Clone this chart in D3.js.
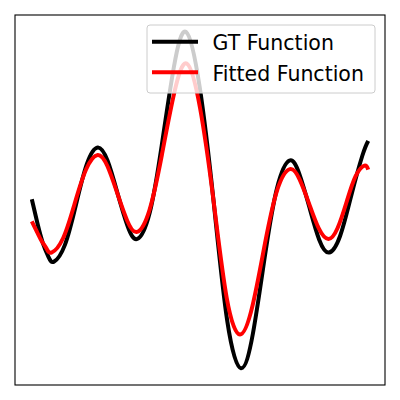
<!DOCTYPE html>
<html>
<head>
<meta charset="utf-8">
<script src="https://cdn.jsdelivr.net/npm/d3@7"></script>
<style>
  html, body { margin: 0; padding: 0; background: #fff; }
  svg { display: block; }
</style>
</head>
<body>
<div id="chart"></div>
<script>
// ---- data ----
const seriesNames = ["GT Function", "Fitted Function"];
const seriesColors = ["#000000", "#ff0000"];

const gtX = [0.000, 0.165, 0.330, 0.495, 0.660, 0.984, 1.314, 1.635, 1.959, 2.253, 2.548, 2.842, 3.136,
             3.508, 3.864, 4.221, 4.584, 4.993, 5.401, 5.810, 6.219, 6.576, 6.932, 7.289, 7.661,
             7.955, 8.248, 8.541, 8.835, 9.165, 9.496, 9.828, 10.000];
const gtY = [0.010, -0.227, -0.428, -0.563, -0.610, -0.444, -0.043, 0.359, 0.525, 0.392, 0.070, -0.252, -0.385,
             -0.120, 0.550, 1.320, 1.675, 1.120, 0.000, -1.200, -1.670, -1.320, -0.550, 0.120, 0.395,
             0.260, -0.065, -0.390, -0.520, -0.355, 0.045, 0.445, 0.590];

const fitX = [0.000, 0.146, 0.291, 0.437, 0.586, 0.929, 1.272, 1.616, 1.959, 2.250, 2.543, 2.836, 3.127,
              3.496, 3.866, 4.236, 4.605, 5.000, 5.397, 5.794, 6.189, 6.561, 6.932, 7.304, 7.675,
              7.961, 8.248, 8.535, 8.820, 9.088, 9.355, 9.623, 9.890, 10.000];
const fitY = [-0.210, -0.310, -0.405, -0.480, -0.520, -0.378, -0.035, 0.308, 0.450, 0.338, 0.068, -0.203, -0.315,
              -0.100, 0.450, 1.070, 1.360, 0.920, 0.010, -0.970, -1.335, -1.050, -0.430, 0.110, 0.310,
              0.208, -0.038, -0.283, -0.385, -0.278, -0.020, 0.238, 0.345, 0.305];

// ---- layout ----
const W = 400, H = 400;
const plot = { left: 15, top: 15, right: 385, bottom: 385 };

const svg = d3.select("#chart").append("svg")
  .attr("width", W).attr("height", H);

const gt = gtX.map((x, i) => ({ x, y: gtY[i] }));
const fit = fitX.map((x, i) => ({ x, y: fitY[i] }));
const series = [gt, fit];

const allX = gtX.concat(fitX), allY = gtY.concat(fitY);
const xExt = d3.extent(allX), yExt = d3.extent(allY);
const xPad = (xExt[1] - xExt[0]) * 0.05, yPad = (yExt[1] - yExt[0]) * 0.05;

const x = d3.scaleLinear().domain([xExt[0] - xPad, xExt[1] + xPad]).range([plot.left, plot.right]);
const y = d3.scaleLinear().domain([yExt[0] - yPad, yExt[1] + yPad]).range([plot.bottom, plot.top]);

const line = d3.line().x(d => x(d.x)).y(d => y(d.y)).curve(d3.curveNatural);

svg.append("defs").append("clipPath").attr("id", "clip")
  .append("rect").attr("x", plot.left).attr("y", plot.top)
  .attr("width", plot.right - plot.left).attr("height", plot.bottom - plot.top);

const g = svg.append("g").attr("clip-path", "url(#clip)");
series.forEach((s, i) => {
  g.append("path").datum(s)
    .attr("d", line)
    .attr("fill", "none")
    .attr("stroke", seriesColors[i])
    .attr("stroke-width", 4)
    .attr("stroke-linejoin", "round")
    .attr("stroke-linecap", "butt");
});

// axes frame (no ticks)
svg.append("rect")
  .attr("x", plot.left).attr("y", plot.top)
  .attr("width", plot.right - plot.left).attr("height", plot.bottom - plot.top)
  .attr("fill", "none").attr("stroke", "#000").attr("stroke-width", 1.1);

// legend
const leg = svg.append("g");
leg.append("rect")
  .attr("x", 147).attr("y", 25).attr("width", 228).attr("height", 68)
  .attr("rx", 3).attr("ry", 3)
  .attr("fill", "#fff").attr("fill-opacity", 0.8)
  .attr("stroke", "#cccccc").attr("stroke-width", 1);

seriesNames.forEach((name, i) => {
  const cy = 41.7 + i * 30.5;
  leg.append("line")
    .attr("x1", 152).attr("x2", 198).attr("y1", cy).attr("y2", cy)
    .attr("stroke", seriesColors[i]).attr("stroke-width", 4);
  leg.append("text")
    .attr("x", 212.5).attr("y", cy + 8.3)
    .attr("font-family", "DejaVu Sans, sans-serif")
    .attr("font-size", 20.5)
    .attr("fill", "#000")
    .text(name);
});
</script>
</body>
</html>
